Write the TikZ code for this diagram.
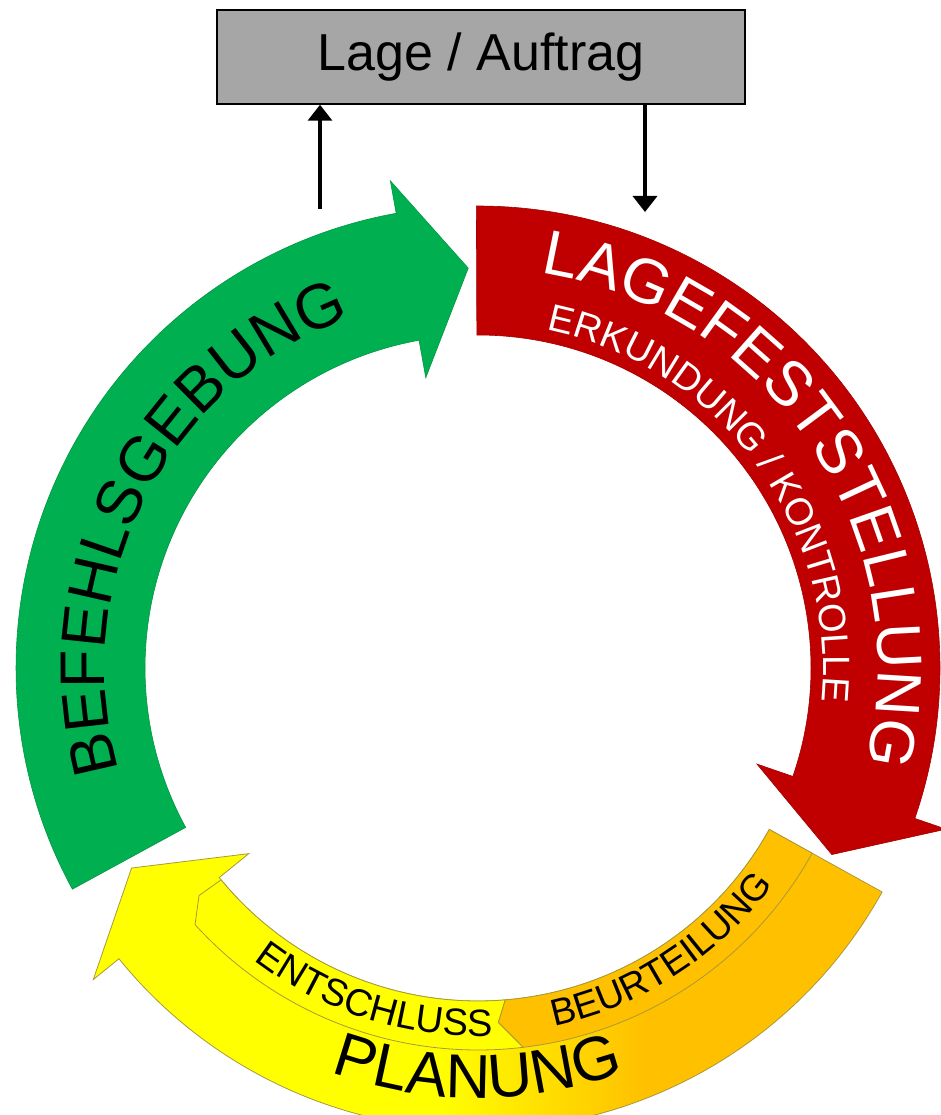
\documentclass[tikz,border=0pt]{standalone}
\usepackage{fontspec}
\setmainfont{Liberation Sans}
\usetikzlibrary{arrows.meta}
\usetikzlibrary{decorations.text}
\definecolor{befehlgreen}{HTML}{00B050}
\definecolor{lagered}{HTML}{C00000}
\definecolor{planyellow}{HTML}{FFFF00}
\definecolor{planorange}{HTML}{FFC000}
\definecolor{planline}{HTML}{A8993A}
\definecolor{boxgray}{HTML}{A6A6A6}
\pgfdeclarehorizontalshading{planshade}{100bp}{color(0bp)=(planyellow); color(47bp)=(planyellow); color(60bp)=(planorange); color(100bp)=(planorange)}
\newcommand{\ringin}{333}
\newcommand{\ringout}{462}
\newcommand{\ringmid}{400}
\newcommand{\ringdiv}{382}
\newcommand{\barbin}{295}
\newcommand{\barbout}{495}
\newcommand{\cyclearrow}[4]{ \path[#4] (#1:\ringout) arc[start angle=#1, end angle=#2, radius=\ringout] -- (#2:\barbout) -- (#3:\ringmid) -- (#2:\barbin) -- (#2:\ringin) arc[start angle=#2, end angle=#1, radius=\ringin] -- cycle;}
\newcommand{\arclabel}[6]{ \path[decorate, decoration={text along path, text color=#6, text={|\fontsize{#4}{#4}\selectfont|#5}}] (#1:#3) arc[start angle=#1, end angle=#2, radius=#3];}

\begin{document}
\begin{tikzpicture}[x=1pt, y=1pt,
        lagebox/.style={draw, line width=1.5pt, fill=boxgray, minimum width=528pt, minimum height=94pt, inner sep=0pt, font=\fontsize{52}{52}\selectfont},
        flow/.style={line width=3.5pt, -{Triangle[width=24pt, length=16pt]}},
        subband/.style={draw=planline, line width=0.8pt}]
        \useasboundingbox (0,0) rectangle (941,-1115);
        \clip (0,0) rectangle (941,-1115);

        % box
        \node[lagebox] (lage) at (481,-57) {Lage / Auftrag};
        \coordinate (befehlOut) at (320,-209);
        \coordinate (lageIn) at (645,-212);
        \draw[flow] (befehlOut) -- (befehlOut |- lage.south);
        \draw[flow] (lageIn |- lage.south) -- (lageIn);

        \begin{scope}[shift={(478,-668)}]
        % arrows
        \cyclearrow{208.6}{100.2}{91.4}{fill=befehlgreen, draw=befehlgreen!85!black, line width=0.6pt}
        \cyclearrow{90.2}{-19}{-27.8}{fill=lagered, draw=lagered!85!black, line width=0.6pt}
        \cyclearrow{331}{219}{210}{shade, shading=planshade, draw=planline, line width=0.8pt}

        % planung parts
        \path[subband, fill=planyellow] (276.8:\ringdiv) arc[start angle=276.8, end angle=222.2, radius=\ringdiv] -- (219.2:360) -- (219.5:\ringin) arc[start angle=219.5, end angle=274.7, radius=\ringin] -- (273.3:355) -- cycle;
        \path[subband, fill=planorange] (276.8:\ringdiv) arc[start angle=276.8, end angle=331, radius=\ringdiv] -- (331:\ringin) arc[start angle=331, end angle=274.7, radius=\ringin] -- (273.3:355) -- cycle;

        % labels
        \arclabel{81}{-40}{400}{63}{LAGEFESTSTELLUNG}{white}
        \arclabel{78.5}{-40}{345}{38}{ERKUNDUNG / KONTROLLE}{white}
        \arclabel{196}{80}{373}{63}{BEFEHLSGEBUNG}{black}
        \arclabel{232.5}{300}{368}{38}{ENTSCHLUSS}{black}
        \arclabel{282}{345}{366}{37.5}{BEURTEILUNG}{black}
        \arclabel{250}{320}{430}{62}{PLANUNG}{black}
        \end{scope}
    \end{tikzpicture}
\end{document}
